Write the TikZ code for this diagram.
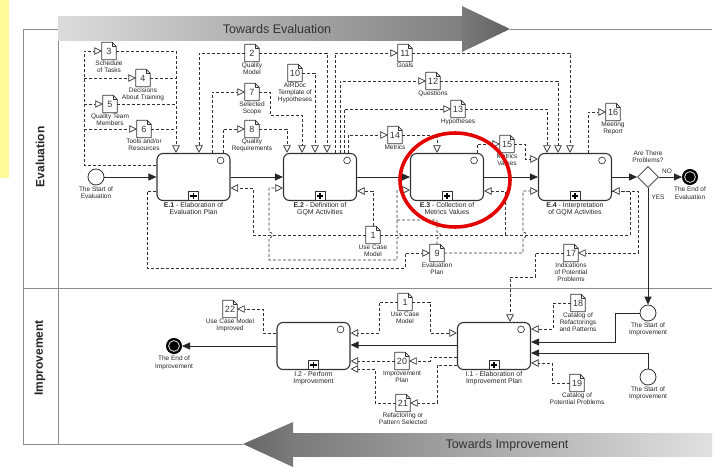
\documentclass[tikz,border=0pt]{standalone}
\usepackage{fontspec}
\setmainfont{Liberation Sans}
\usetikzlibrary{arrows.meta,shapes.geometric,calc}
\pgfdeclarelayer{back}
\pgfdeclarelayer{mid}
\pgfsetlayers{back,mid,main}

\tikzset{
  task/.style={draw=black!80, line width=1.1pt, rounded corners=6pt, minimum width=73pt, minimum height=47pt, fill=white, inner sep=0pt},
  tasklabel/.style={anchor=north, align=center, inner sep=1pt, font=\fontsize{6.9}{7.7}\selectfont, text=black!85},
  docbox/.style={minimum width=14pt, minimum height=17pt, inner sep=0.5pt, fill=white, font=\fontsize{9}{9}\selectfont, text=black!80},
  docedge/.style={draw=black!80, line width=0.65pt, line join=round},
  doclabel/.style={anchor=north, align=center, inner sep=1pt, font=\fontsize{6.5}{7}\selectfont, text=black!85},
  startev/.style={circle, draw=black!80, line width=0.8pt, minimum size=16pt, inner sep=0pt, fill=white},
  endev/.style={circle, draw=black, line width=1pt, minimum size=15pt, inner sep=0pt, fill=black,
    path picture={\draw[white, line width=0.7pt] (path picture bounding box.center) circle (5.4pt);}},
  gate/.style={diamond, draw=black!80, line width=0.8pt, minimum width=21pt, minimum height=21pt, inner sep=0pt, fill=white},
  evlabel/.style={anchor=north, align=center, inner sep=1pt, font=\fontsize{6.5}{7.2}\selectfont, text=black!85},
  flow/.style={draw=black!85, line width=0.9pt, -{Triangle[length=8pt, width=7pt]}},
  assoc/.style={draw=black!80, line width=0.7pt, dash pattern=on 3pt off 2pt, -{Triangle[length=7.5pt, width=7.5pt, fill=white]}},
  assocline/.style={draw=black!80, line width=0.7pt, dash pattern=on 3pt off 2pt},
  pool/.style={draw=black!45, line width=0.8pt},
  bandtext/.style={font=\fontsize{12.5}{14}\selectfont, text=black!80},
  lanetext/.style={rotate=90, font=\fontsize{12}{14}\selectfont\bfseries, text=black!85},
}

% data object: name, position, number, caption
\newcommand\dataobj[4]{%
  \node[docbox] (#1) at (#2) {#3};
  \draw[docedge] (#1.south west) -- (#1.north west) -- ([xshift=-4pt]#1.north east)
    -- ([yshift=-4pt]#1.north east) -- (#1.south east) -- cycle;
  \draw[docedge] ([xshift=-4pt]#1.north east) |- ([yshift=-4pt]#1.north east);
  \node[doclabel] at (#1.south) {#4};
}
% sub-process markers of a task
\newcommand\submarks[1]{%
  \draw[black!75, line width=0.7pt] ([xshift=-10pt,yshift=-7.5pt]#1.north east) circle (3.4pt);
  \draw[black!80, line width=0.8pt, fill=white] ([xshift=-5pt,yshift=0.5pt]#1.south) rectangle ([xshift=5pt,yshift=10pt]#1.south);
  \draw[black, line width=1.4pt] ([xshift=-3.2pt,yshift=5.2pt]#1.south) -- ([xshift=3.2pt,yshift=5.2pt]#1.south)
    ([yshift=2pt]#1.south) -- ([yshift=8.4pt]#1.south);
}

\begin{document}
\begin{tikzpicture}[x=1pt, y=-1pt]
\useasboundingbox (0,0) rectangle (715,468);

% ---------- pool, lanes and direction bands ----------
\begin{pgfonlayer}{back}
  \fill[yellow!40] (0,0) rectangle (9,178);
  \draw[pool] (23,29) -- (58,29);
  \draw[pool] (510,29) -- (712,29);
  \draw[pool] (23,29) -- (23,444) -- (243,444);
  \draw[pool] (58,29) -- (58,444);
  \draw[pool] (23,288) -- (712,288);
  \shade[left color=black!14, right color=black!50] (58,17) rectangle (462,41);
  \shade[left color=black!52, right color=black!62] (462,6) -- (510,29) -- (462,52) -- cycle;
  \shade[left color=black!60, right color=black!52] (243,444) -- (293,422) -- (293,467) -- cycle;
  \shade[left color=black!52, right color=black!12] (293,433) rectangle (712,456);
\end{pgfonlayer}
\node[bandtext] (tEval) at (277,29) {Towards Evaluation};
\node[bandtext] (tImpr) at (507,445) {Towards Improvement};
\node[lanetext] (lEval) at (40,157) {Evaluation};
\node[lanetext] (lImpr) at (40,358) {Improvement};

% ---------- events, gateway and tasks ----------
\node[startev] (se) at (96,177) {};
\node[evlabel] at (se.south) {The Start of\\Evaluation};

\node[task] (e1) at (193.5,177) {};
\node[task] (e2) at (320,177) {};
\node[task] (e3) at (447,177) {};
\node[task] (e4) at (575,177) {};
\foreach \t in {e1,e2,e3,e4} {\submarks{\t}}
\node[tasklabel] at (e1.south) {\textbf{E.1} - Elaboration of\\Evaluation Plan};
\node[tasklabel] at (e2.south) {\textbf{E.2} - Definition of\\GQM Activities};
\node[tasklabel] at (e3.south) {\textbf{E.3} - Collection of\\Metrics Values};
\node[tasklabel] at (e4.south) {\textbf{E.4} - Interpretation\\of GQM Activities};

\node[gate] (gw) at (648,177) {};
\node[evlabel, anchor=south] at ([yshift=2pt]gw.north) {Are There\\Problems?};
\node[evlabel, anchor=center] (no) at (667,171) {NO};
\node[evlabel, anchor=center] (yes) at (658,197) {YES};
\node[endev] (ee) at (690,177) {};
\node[evlabel] at ([yshift=-1pt]ee.south) {The End of\\Evaluation};

\node[startev] (si1) at (648,313) {};
\node[evlabel] at (si1.south) {The Start of\\Improvement};
\node[startev] (si2) at (648,377) {};
\node[evlabel] at (si2.south) {The Start of\\Improvement};

\node[task] (i1) at (494,346) {};
\node[task] (i2) at (313.5,346) {};
\submarks{i1}
\submarks{i2}
\node[tasklabel] at (i1.south) {I.1 - Elaboration of\\Improvement Plan};
\node[tasklabel] at (i2.south) {I.2 - Perform\\Improvement};

\node[endev] (ei) at (174,346) {};
\node[evlabel] at ([yshift=-1pt]ei.south) {The End of\\Improvement};

% ---------- data objects ----------
\dataobj{d3}{109,51}{3}{Schedule\\of Tasks}
\dataobj{d4}{143,78}{4}{Decisions\\About Training}
\dataobj{d5}{110,104}{5}{Quality Team\\Members}
\dataobj{d6}{144,129}{6}{Tools and/or\\Resources}
\dataobj{d2}{252,53}{2}{Quality\\Model}
\dataobj{d7}{252,92}{7}{Selected\\Scope}
\dataobj{d8}{252,129}{8}{Quality\\Requirements}
\dataobj{d10}{295,73}{10}{AIRDoc\\Template of\\Hypotheses}
\dataobj{d11}{405,53}{11}{Goals}
\dataobj{d12}{433,81}{12}{Questions}
\dataobj{d13}{458,109}{13}{Hypotheses}
\dataobj{d14}{395,135}{14}{Metrics}
\dataobj{d15}{507,144}{15}{Metrics\\Values}
\dataobj{d16}{613,112}{16}{Meeting\\Report}
\dataobj{d1}{373,235}{1}{Use Case\\Model}
\dataobj{d9}{437,253}{9}{Evaluation\\Plan}
\dataobj{d17}{571,253}{17}{Indications\\of Potential\\Problems}
\dataobj{d22}{230,309}{22}{Use Case Model\\Improved}
\dataobj{d1b}{405,302}{1}{Use Case\\Model}
\dataobj{d20}{402,361}{20}{Improvement\\Plan}
\dataobj{d21}{403,403}{21}{Refactoring or\\Pattern Selected}
\dataobj{d18}{578,303}{18}{Catalog of\\Refactorings\\and Patterns}
\dataobj{d19}{577,383}{19}{Catalog of\\Potential Problems}

\coordinate (j9) at (397,220);

% ---------- connectors ----------
\begin{pgfonlayer}{mid}
  % sequence flows
  \draw[flow] (se) -- (e1.west |- se);
  \draw[flow] (e1) -- (e2);
  \draw[flow] (e2) -- (e3);
  \draw[flow] (e3) -- (e4);
  \draw[flow] (e4.east |- gw) -- (gw.west);
  \draw[flow] (gw) -- (ee);
  \draw[flow] (gw) -- (si1);
  \draw[flow] (si1.west) -| (615,342) -- (i1.east |- 0,342);
  \draw[flow] (si2.north) |- (i1.east |- 0,353);
  \draw[flow] (i1.west |- 0,345) -- (i2.east |- 0,345);
  \draw[flow] (i2.west |- ei) -- (ei);

  % E.1 outputs, left side
  \draw[assoc] (e1.west |- 0,165) -| (84,51) -- (d3.west);
  \draw[assoc] (d4.west -| 84,0) -- (d4.west);
  \draw[assoc] (d5.west -| 84,0) -- (d5.west);
  \draw[assoc] (d6.west -| 84,0) -- (d6.west);
  % documents 3-6 into E.1
  \draw[assoc] (d3.east) -| (e1.north -| 176,0);
  \draw[assocline] (d4.east) -- (d4.east -| 176,0);
  \draw[assocline] (d5.east) -- (d5.east -| 176,0);
  \draw[assocline] (d6.east) -- (d6.east -| 176,0);
  % quality model into E.1 and E.2
  \draw[assoc] (d2.west) -| (e1.north -| 199,0);
  \draw[assoc] (d2.east) -| (e2.north -| 327,0);
  % E.1 -> 7, 8
  \draw[assoc] (e1.north -| 212,0) |- (d7.west);
  \draw[assoc] (e1.north -| 223,0) |- (d8.west);
  % 7, 8, 10 -> E.2
  \draw[assoc] (d7.east) -| (270,115) -| (e2.north -| 302,0);
  \draw[assoc] (d8.east) -| (e2.north -| 287,0);
  \draw[assoc] (d10.east) -| (e2.north -| 315,0);
  % E.2 -> 11..14
  \draw[assoc] (e2.north -| 335,0) |- (d11.west);
  \draw[assoc] (e2.north -| 340,0) |- (d12.west);
  \draw[assoc] (e2.north -| 344,0) |- (d13.west);
  \draw[assoc] (e2.north -| 348,0) |- (d14.west);
  % 11..13 -> E.4, 14 -> E.3
  \draw[assoc] (d11.east) -| (e4.north -| 570,0);
  \draw[assoc] (d12.east) -| (e4.north -| 558,0);
  \draw[assoc] (d13.east) -| (e4.north -| 547,0);
  \draw[assoc] (d14.east) -| (e3.north -| 437,0);
  % E.3 -> 15 -> E.4, E.4 -> 16
  \draw[assoc] (e3.north -| 477,0) |- (d15.west);
  \draw[assoc] (d15.east) -| (525,159) -- (e4.west |- 0,159);
  \draw[assoc] (e4.north -| 588,0) |- (d16.west);

  % E.4 -> 17
  \draw[assoc] (e4.east |- 0,191) -| (638,253) -- (d17.east);
  % use case model into E.1..E.4
  \draw[assoc] (d1.west) -| (253,188) -- (e1.east |- 0,188);
  \draw[assoc] (d1.north) |- (e2.east |- 0,191);
  \draw[assoc] (d1.east -| 505,0) |- (e3.east |- 0,191);
  \draw[assoc] (d1.east) -- (630,235) |- (e4.east |- 0,191);
  % E.1 -> evaluation plan
  \draw[assoc] (e1.west |- 0,191) -- (147,191) |- (405,268) |- (d9.west);
  % evaluation plan -> E.3, E.2, E.4
  \draw[assoc] (d9.north) -- (437,238) .. controls (441.5,238) and (441.5,232) .. (437,232)
    |- (j9) |- (e3.west |- 0,190);
  \draw[assoc] (j9) -- (397,232) .. controls (401.5,232) and (401.5,238) .. (397,238)
    |- (269,260) -- (269,238) .. controls (273.5,238) and (273.5,232) .. (269,232)
    |- (e2.west |- 0,188);
  \draw[assoc] (d9.east) -| (523,238) .. controls (527.5,238) and (527.5,232) .. (523,232)
    |- (e4.west |- 0,191);
  % indications of potential problems -> I.1
  \draw[assoc] (d17.west) -| (535,277) -| (i1.north -| 510,0);

  % improvement lane
  \draw[assoc] (i2.west |- 0,333) -- (263,333) |- (d22.east);
  \draw[assoc] (d1b.west) -| (379,333) -- (i2.east |- 0,333);
  \draw[assoc] (d1b.east) -| (430,333) -- (i1.west |- 0,333);
  \draw[assoc] (i1.west |- 0,357) -| (430,361) -- (d20.east);
  \draw[assoc] (i1.west |- 0,365) -| (437,403) -- (d21.east);
  \draw[assoc] (d20.west) -- (i2.east |- d20.west);
  \draw[assoc] (d21.west) -| (375,369) -- (i2.east |- 0,369);
  \draw[assoc] (d18.west) -| (553,329) -- (i1.east |- 0,329);
  \draw[assoc] (d19.west) -| (552,363) -- (i1.east |- 0,363);
\end{pgfonlayer}

% highlight ring
\draw[red!90!black, line width=3.6pt] (455,180) ellipse [x radius=55pt, y radius=47pt];
\end{tikzpicture}
\end{document}
